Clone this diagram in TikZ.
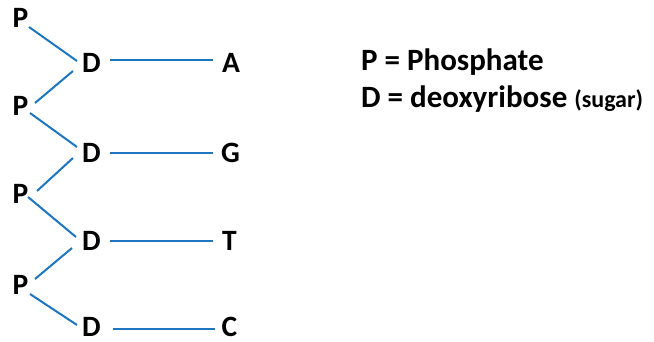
\documentclass[tikz,border=0pt]{standalone}
\usepackage{fontspec}
\setmainfont{Carlito}
\definecolor{bond}{RGB}{30,117,192}
\begin{document}
\begin{tikzpicture}[x=1pt,y=-1pt,
  base/.style={font=\bfseries\fontsize{29.5}{34}\selectfont,inner sep=0pt},
  legend/.style={font=\bfseries\fontsize{31}{36}\selectfont,inner sep=0pt,anchor=base west},
  link/.style={draw=bond,line width=2pt}]
\useasboundingbox (0,0) rectangle (654,342);
% phosphate groups
\node[base] (P1) at (20.5,18) {P};
\node[base] (P2) at (20.5,106) {P};
\node[base] (P3) at (20.5,194) {P};
\node[base] (P4) at (20.5,285) {P};
% sugars
\node[base] (D1) at (91.5,63) {D};
\node[base] (D2) at (91.5,153) {D};
\node[base] (D3) at (91.5,241) {D};
\node[base] (D4) at (91.5,327) {D};
% bases
\node[base] (A) at (231,63) {A};
\node[base] (G) at (230.5,153) {G};
\node[base] (T) at (229.5,241) {T};
\node[base] (C) at (229.5,327) {C};
% backbone
\draw[link] ([shift={(8.5,9)}]P1.center) -- ([shift={(-14.5,-2)}]D1.center);
\draw[link] ([shift={(-18.5,8)}]D1.center) -- ([shift={(14.5,-3)}]P2.center);
\draw[link] ([shift={(9.5,7)}]P2.center) -- ([shift={(-14.5,-6)}]D2.center);
\draw[link] ([shift={(-18.5,5)}]D2.center) -- ([shift={(16.5,-3)}]P3.center);
\draw[link] ([shift={(7.5,3)}]P3.center) -- ([shift={(-15.5,-4)}]D3.center);
\draw[link] ([shift={(-19.5,7)}]D3.center) -- ([shift={(14.5,-6)}]P4.center);
\draw[link] ([shift={(9.5,9)}]P4.center) -- ([shift={(-14.5,-2)}]D4.center);
% sugar--base bonds
\draw[link] ([shift={(18.5,-3)}]D1.center) -- ([shift={(-18,-3)}]A.center);
\draw[link] ([shift={(18.5,0)}]D2.center) -- ([shift={(-17.5,0)}]G.center);
\draw[link] ([shift={(18.5,0)}]D3.center) -- ([shift={(-16.5,0)}]T.center);
\draw[link,line width=2.6pt] ([shift={(21.5,2)}]D4.center) -- ([shift={(-14.5,2)}]C.center);
% key
\node[legend] (k1) at (361,71) {P = Phosphate};
\node[legend] (k2) at (361,108) {D = deoxyribose {\fontsize{24}{28}\selectfont(sugar)}};
\end{tikzpicture}
\end{document}
